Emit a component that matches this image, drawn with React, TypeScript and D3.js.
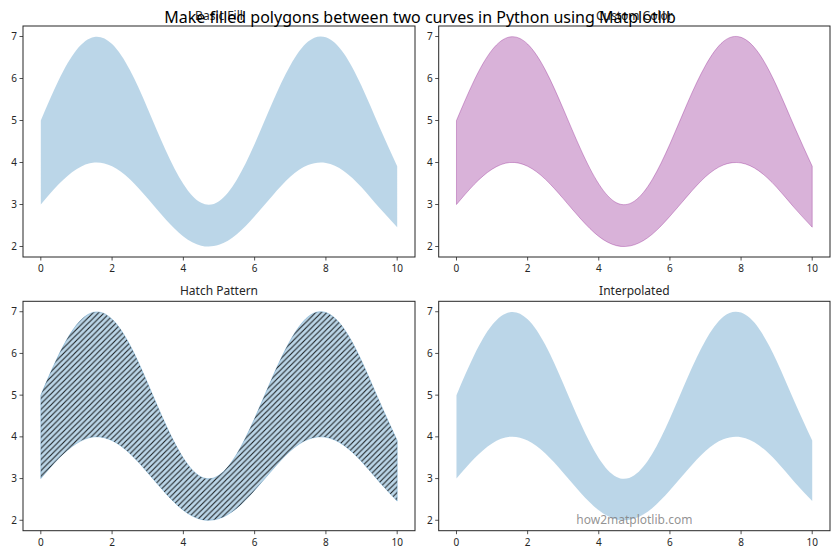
import React from "react";
import * as d3 from "d3";

const X = [0, 0.5, 1, 1.5, 2, 2.5, 3, 3.5, 4, 4.5, 5, 5.5, 6, 6.5, 7, 7.5, 8, 8.5, 9, 9.5, 10];
const UPPER = [5.0, 5.96, 6.68, 6.99, 6.82, 6.2, 5.28, 4.3, 3.49, 3.04, 3.08, 3.59, 4.44, 5.43, 6.31, 6.88, 6.98, 6.6, 5.82, 4.85, 3.91];
const LOWER = [3.0, 3.48, 3.84, 4.0, 3.91, 3.6, 3.14, 2.65, 2.24, 2.02, 2.04, 2.29, 2.72, 3.21, 3.66, 3.94, 3.99, 3.8, 3.41, 2.92, 2.46];
const X_TICKS = [0, 2, 4, 6, 8, 10];
const Y_TICKS = [2, 3, 4, 5, 6, 7];
const TITLES = ["Basic Fill", "Custom Color", "Hatch Pattern", "Interpolated"];
const SUPTITLE = "Make filled polygons between two curves in Python using Matplotlib";
const WATERMARK = "how2matplotlib.com";

const W = 840;
const H = 560;
const FONT = "'Noto Sans', 'DejaVu Sans', sans-serif";

type Panel = { x0: number; x1: number; y0: number; y1: number; kind: number };
const PANELS: Panel[] = [
  { x0: 23, x1: 415, y0: 26, y1: 257, kind: 0 },
  { x0: 438.7, x1: 830, y0: 26, y1: 257, kind: 1 },
  { x0: 23, x1: 415, y0: 301.3, y1: 530.7, kind: 2 },
  { x0: 438.7, x1: 830, y0: 301.3, y1: 530.7, kind: 3 },
];

function PanelView({ p }: { p: Panel }) {
  const xs = d3.scaleLinear().domain([-0.5, 10.5]).range([p.x0, p.x1]);
  const ys = d3.scaleLinear().domain([1.75, 7.25]).range([p.y1, p.y0]);
  const data = X.map((x, i) => ({ x, u: UPPER[i], l: LOWER[i] }));
  const area = d3
    .area<{ x: number; u: number; l: number }>()
    .x((d) => xs(d.x))
    .y0((d) => ys(d.l))
    .y1((d) => ys(d.u))
    .curve(d3.curveNatural);
  const pathD = area(data) || "";
  const clipId = `clip${p.kind}`;
  const cx = (p.x0 + p.x1) / 2;
  let shape: React.ReactNode;
  if (p.kind === 1) {
    shape = (
      <path d={pathD} fill="purple" fillOpacity={0.3} stroke="purple" strokeOpacity={0.3} strokeWidth={1} />
    );
  } else if (p.kind === 2) {
    shape = (
      <g>
        <path d={pathD} fill="#1f77b4" fillOpacity={0.3} stroke="#1f77b4" strokeOpacity={0.3} strokeWidth={1} />
        <clipPath id={clipId}>
          <path d={pathD} />
        </clipPath>
        <rect x={p.x0} y={p.y0} width={p.x1 - p.x0} height={p.y1 - p.y0} fill="url(#hatch)" clipPath={`url(#${clipId})`} />
      </g>
    );
  } else {
    shape = <path d={pathD} fill="#1f77b4" fillOpacity={0.3} stroke="none" />;
  }
  return (
    <g>
      {shape}
      <rect x={p.x0} y={p.y0} width={p.x1 - p.x0} height={p.y1 - p.y0} fill="none" stroke="#262626" strokeWidth={1} />
      {X_TICKS.map((t) => (
        <g key={"x" + t}>
          <line x1={xs(t)} x2={xs(t)} y1={p.y1} y2={p.y1 + 3.5} stroke="#262626" strokeWidth={0.8} />
          <text x={xs(t)} y={p.y1 + 15} textAnchor="middle" fontSize={10} fill="#262626" fontFamily={FONT}>
            {t}
          </text>
        </g>
      ))}
      {Y_TICKS.map((t) => (
        <g key={"y" + t}>
          <line x1={p.x0 - 3.5} x2={p.x0} y1={ys(t)} y2={ys(t)} stroke="#262626" strokeWidth={0.8} />
          <text x={p.x0 - 6} y={ys(t) + 3.5} textAnchor="end" fontSize={10} fill="#262626" fontFamily={FONT}>
            {t}
          </text>
        </g>
      ))}
      <text x={cx} y={p.y0 - 6} textAnchor="middle" fontSize={12} fill="#262626" fontFamily={FONT}>
        {TITLES[p.kind]}
      </text>
      {p.kind === 3 && (
        <text x={cx} y={ys(2.0) + 4} textAnchor="middle" fontSize={12} fill="#808080" fillOpacity={0.85} fontFamily={FONT}>
          {WATERMARK}
        </text>
      )}
    </g>
  );
}

export default function App() {
  const s = 5.56;
  return (
    <svg width={W} height={H} style={{ position: "absolute", left: 0, top: 0, background: "#fff" }}>
      <defs>
        <pattern id="hatch" patternUnits="userSpaceOnUse" width={s} height={s}>
          <path
            d={`M0,${s} L${s},0 M${-s / 2},${s / 2} L${s / 2},${-s / 2} M${s / 2},${s * 1.5} L${s * 1.5},${s / 2}`}
            stroke="#000"
            strokeOpacity={0.85}
            strokeWidth={1.1}
          />
        </pattern>
      </defs>
      <rect x={0} y={0} width={W} height={H} fill="#fff" />
      {PANELS.map((p) => (
        <PanelView key={p.kind} p={p} />
      ))}
      <text x={W / 2} y={23} textAnchor="middle" fontSize={16} fill="#000" fontFamily={FONT}>
        {SUPTITLE}
      </text>
    </svg>
  );
}
